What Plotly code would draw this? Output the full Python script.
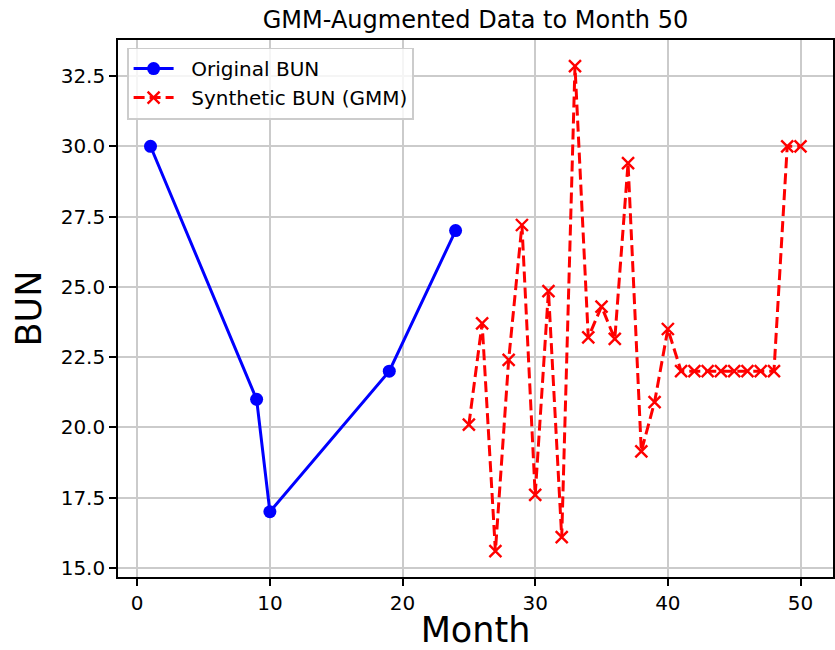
import plotly.graph_objects as go

orig_month = [1, 9, 10, 19, 24]
orig_bun = [30.0, 21.0, 17.0, 22.0, 27.0]

syn_month = list(range(25, 51))
syn_bun = [20.1, 23.7, 15.6, 22.4, 27.2, 17.6, 24.85, 16.1, 32.85, 23.2,
           24.3, 23.15, 29.4, 19.15, 20.9, 23.5, 22.0, 22.0, 22.0, 22.0,
           22.0, 22.0, 22.0, 22.0, 30.0, 30.0]

x_ticks = [0, 10, 20, 30, 40, 50]
y_ticks = [15.0, 17.5, 20.0, 22.5, 25.0, 27.5, 30.0, 32.5]

FONT = "DejaVu Sans"
PAD = "\u00a0\u00a0"

fig = go.Figure()
fig.add_trace(go.Scatter(
    x=orig_month, y=orig_bun, mode="lines+markers", name=PAD + "Original BUN",
    line=dict(color="#0000ff", width=3),
    marker=dict(symbol="circle", size=13, color="#0000ff"),
))
fig.add_trace(go.Scatter(
    x=syn_month, y=syn_bun, mode="lines+markers", name=PAD + "Synthetic BUN (GMM)",
    line=dict(color="#ff0000", width=3, dash="11px,5px"),
    marker=dict(symbol="x-thin", size=12, color="#ff0000",
                line=dict(color="#ff0000", width=2.4)),
))

axis_common = dict(
    showline=True, linecolor="black", linewidth=1.6, mirror=True,
    ticks="outside", ticklen=7, tickwidth=1.6, tickcolor="black",
    showgrid=True, gridcolor="#cbcbcb", gridwidth=1.6, zeroline=False,
    tickfont=dict(family=FONT, size=20, color="black"),
)

fig.update_layout(
    width=835, height=650,
    margin=dict(l=118, r=0, t=40, b=73),
    paper_bgcolor="white", plot_bgcolor="white",
    font=dict(family=FONT, color="black"),
    title=dict(text="GMM-Augmented Data to Month 50", x=0.5, xref="paper",
               xanchor="center", y=1 - 20 / 650, yref="container", yanchor="middle",
               font=dict(family=FONT, size=24, color="black")),
    xaxis=dict(range=[-1.45, 52.45], tickvals=x_ticks,
               title=dict(text="Month", font=dict(family=FONT, size=35), standoff=8),
               **axis_common),
    yaxis=dict(range=[14.68, 33.78], tickvals=y_ticks, tickformat=".1f",
               title=dict(text="BUN", font=dict(family=FONT, size=35), standoff=8),
               **axis_common),
    legend=dict(x=0.0126, y=0.986, xanchor="left", yanchor="top",
                bgcolor="rgba(255,255,255,0.8)", bordercolor="#cccccc", borderwidth=1.6,
                font=dict(family=FONT, size=20, color="black"),
                tracegroupgap=0, itemwidth=40),
    showlegend=True,
)

fig.write_html("out.html")
